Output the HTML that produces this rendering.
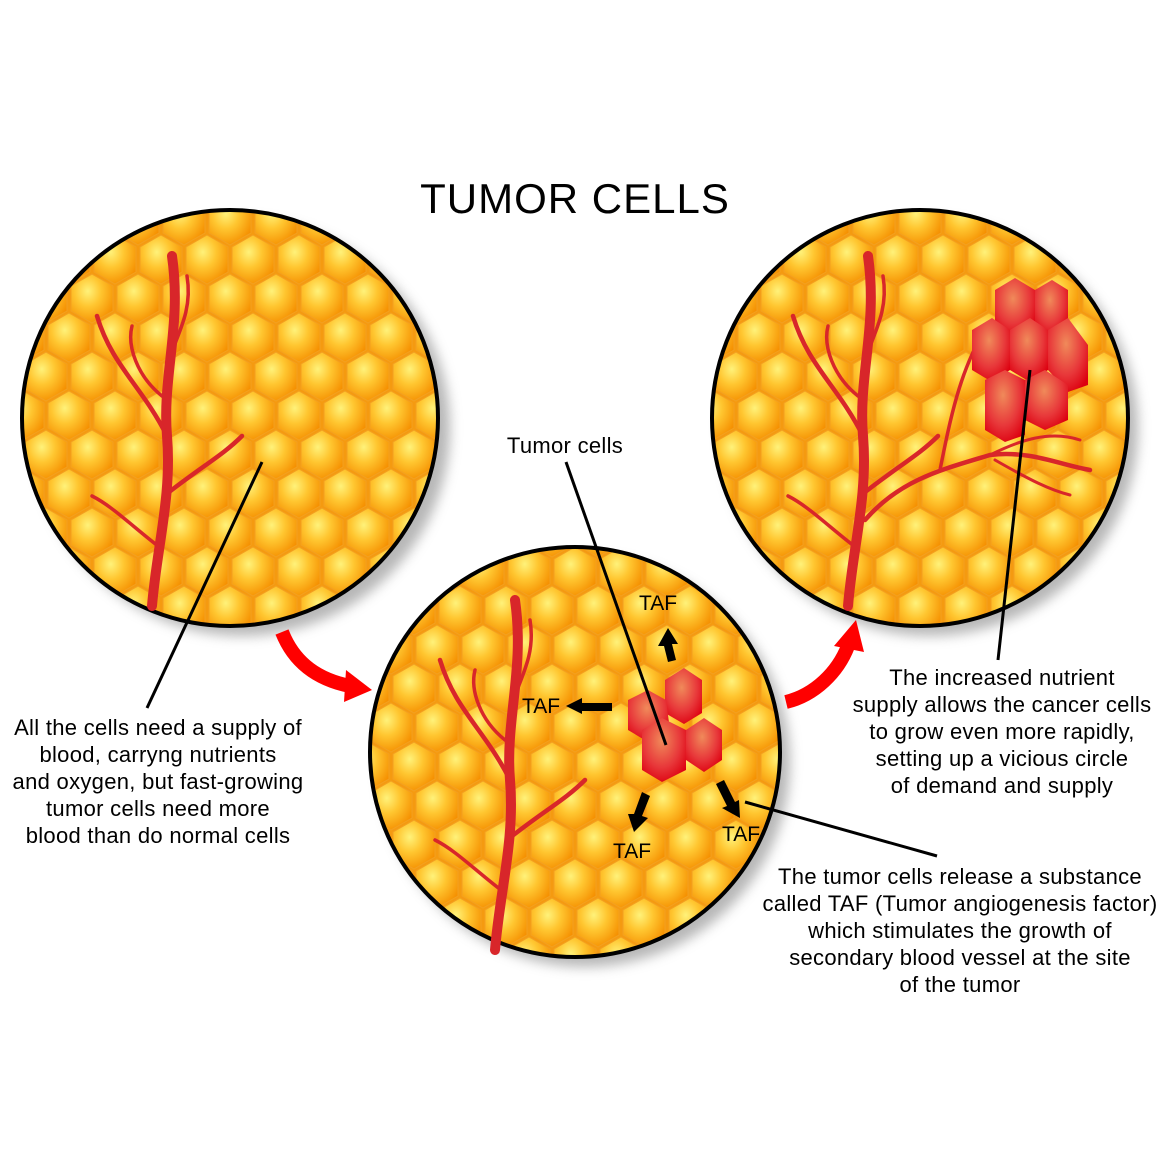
<!DOCTYPE html>
<html><head><meta charset="utf-8"><style>
html,body{margin:0;padding:0;background:#fff}
svg{display:block}
text{font-family:"Liberation Sans",sans-serif;fill:#000}
</style></head><body>
<svg width="1168" height="1168" viewBox="0 0 1168 1168" xmlns="http://www.w3.org/2000/svg">
<defs>
<radialGradient id="hg" cx="0.4" cy="0.35" r="0.7">
<stop offset="0" stop-color="#fff27a"/><stop offset="0.45" stop-color="#ffc630"/><stop offset="1" stop-color="#f58f00"/>
</radialGradient>
<radialGradient id="rg" cx="0.45" cy="0.35" r="0.7">
<stop offset="0" stop-color="#f08a5a"/><stop offset="0.6" stop-color="#e8383a"/><stop offset="1" stop-color="#dd0010"/>
</radialGradient>
<pattern id="hex" width="46" height="78" patternUnits="userSpaceOnUse">
<rect width="46" height="78" fill="#f59a10"/>
<g fill="url(#hg)" stroke="#f3a020" stroke-width="1">
<polygon points="23,1 44,13 44,38 23,50 2,38 2,13"/>
<polygon points="0,40 21,52 21,77 0,89 -21,77 -21,52"/>
<polygon points="46,40 67,52 67,77 46,89 25,77 25,52"/>
<polygon points="0,-38 21,-26 21,-1 0,11 -21,-1 -21,-26"/>
<polygon points="46,-38 67,-26 67,-1 46,11 25,-1 25,-26"/>
</g>
</pattern>
<filter id="sh" x="-20%" y="-20%" width="140%" height="140%"><feGaussianBlur stdDeviation="6"/></filter>
<g id="vessel" fill="none" stroke="#d8262a" stroke-linecap="round">
<path d="M0,0 C5,-60 20,-110 15,-170 C10,-230 30,-280 20,-350" stroke-width="10"/>
<path d="M15,-170 C-10,-220 -40,-240 -55,-290" stroke-width="4.5"/>
<path d="M18,-250 C30,-280 40,-300 35,-330" stroke-width="3.5"/>
<path d="M12,-110 C50,-140 70,-150 90,-170" stroke-width="4.5"/>
<path d="M6,-60 C-20,-80 -40,-100 -60,-110" stroke-width="3.5"/>
<path d="M10,-210 C-15,-230 -25,-260 -20,-280" stroke-width="3.5"/>
</g>
</defs>

<text x="575" y="213" font-size="42" text-anchor="middle" letter-spacing="1">TUMOR CELLS</text>

<circle cx="242" cy="428" r="208" fill="#999" filter="url(#sh)" opacity="0.7"/>
<circle cx="585" cy="762" r="205" fill="#999" filter="url(#sh)" opacity="0.7"/>
<circle cx="930" cy="428" r="208" fill="#999" filter="url(#sh)" opacity="0.7"/>

<circle cx="230" cy="418" r="208" fill="url(#hex)" stroke="#000" stroke-width="4"/>
<use href="#vessel" x="152" y="606"/>

<circle cx="575" cy="752" r="205" fill="url(#hex)" stroke="#000" stroke-width="4"/>
<use href="#vessel" x="495" y="950"/>
<g fill="url(#rg)">
<polygon points="665,680 684,668 702,680 702,713 684,724 665,713"/>
<polygon points="628,700 648,690 666,700 670,730 648,742 628,730"/>
<polygon points="642,730 662,718 686,730 686,770 662,782 642,770"/>
<polygon points="686,730 704,718 722,730 722,760 704,772 686,760"/>
</g>
<g fill="#000">
<polygon points="668,628 658,646 664,646 668,662 676,660 672,644 678,644"/>
<polygon points="566,706 582,698 582,703 612,703 612,711 582,711 582,714"/>
<polygon points="634,832 628,814 634,814 642,792 650,796 642,816 648,818"/>
<polygon points="740,818 722,808 727,806 716,784 724,780 735,802 739,800"/>
</g>
<text x="658" y="610" font-size="21" text-anchor="middle">TAF</text>
<text x="541" y="713" font-size="21" text-anchor="middle">TAF</text>
<text x="632" y="858" font-size="21" text-anchor="middle">TAF</text>
<text x="741" y="841" font-size="21" text-anchor="middle">TAF</text>

<circle cx="920" cy="418" r="208" fill="url(#hex)" stroke="#000" stroke-width="4"/>
<use href="#vessel" x="848" y="606"/>
<g fill="none" stroke="#d8262a" stroke-linecap="round">
<path d="M865,520 C900,480 940,470 990,455 C1030,450 1060,465 1090,470" stroke-width="4.5"/>
<path d="M940,470 C950,420 960,370 985,330" stroke-width="3.5"/>
<path d="M990,455 C1020,440 1050,430 1080,440" stroke-width="3"/>
<path d="M995,460 C1030,480 1050,490 1070,495" stroke-width="3"/>
</g>
<g fill="url(#rg)">
<polygon points="995,290 1015,278 1035,290 1035,325 1015,337 995,325"/>
<polygon points="1035,290 1052,280 1068,290 1068,325 1052,337 1035,325"/>
<polygon points="972,330 992,318 1010,330 1010,370 992,382 972,370"/>
<polygon points="1010,330 1030,318 1048,330 1048,370 1030,382 1010,370"/>
<polygon points="1048,330 1068,318 1088,345 1088,385 1068,392 1048,370"/>
<polygon points="985,380 1005,370 1025,380 1025,435 1005,442 985,430"/>
<polygon points="1025,380 1045,370 1068,385 1068,420 1045,430 1025,420"/>
</g>

<path d="M282,632 C295,665 320,680 350,686" fill="none" stroke="#f00" stroke-width="14"/>
<polygon points="346,670 372,690 344,702" fill="#f00"/>
<path d="M786,702 C815,695 838,672 848,646" fill="none" stroke="#f00" stroke-width="14"/>
<polygon points="834,646 856,620 864,652" fill="#f00"/>

<g stroke="#000" stroke-width="3">
<line x1="262" y1="462" x2="147" y2="708"/>
<line x1="566" y1="462" x2="666" y2="745"/>
<line x1="745" y1="802" x2="937" y2="856"/>
<line x1="1030" y1="370" x2="998" y2="660"/>
</g>

<g font-size="22" text-anchor="middle" letter-spacing="0.3">
<text x="565" y="453">Tumor cells</text>
<text x="158" y="735">All the cells need a supply of</text>
<text x="158" y="762">blood, carryng nutrients</text>
<text x="158" y="789">and oxygen, but fast-growing</text>
<text x="158" y="816">tumor cells need more</text>
<text x="158" y="843">blood than do normal cells</text>
<text x="1002" y="685">The increased nutrient</text>
<text x="1002" y="712">supply allows the cancer cells</text>
<text x="1002" y="739">to grow even more rapidly,</text>
<text x="1002" y="766">setting up a vicious circle</text>
<text x="1002" y="793">of demand and supply</text>
<text x="960" y="884">The tumor cells release a substance</text>
<text x="960" y="911">called TAF (Tumor angiogenesis factor)</text>
<text x="960" y="938">which stimulates the growth of</text>
<text x="960" y="965">secondary blood vessel at the site</text>
<text x="960" y="992">of the tumor</text>
</g>
</svg>
</body></html>
